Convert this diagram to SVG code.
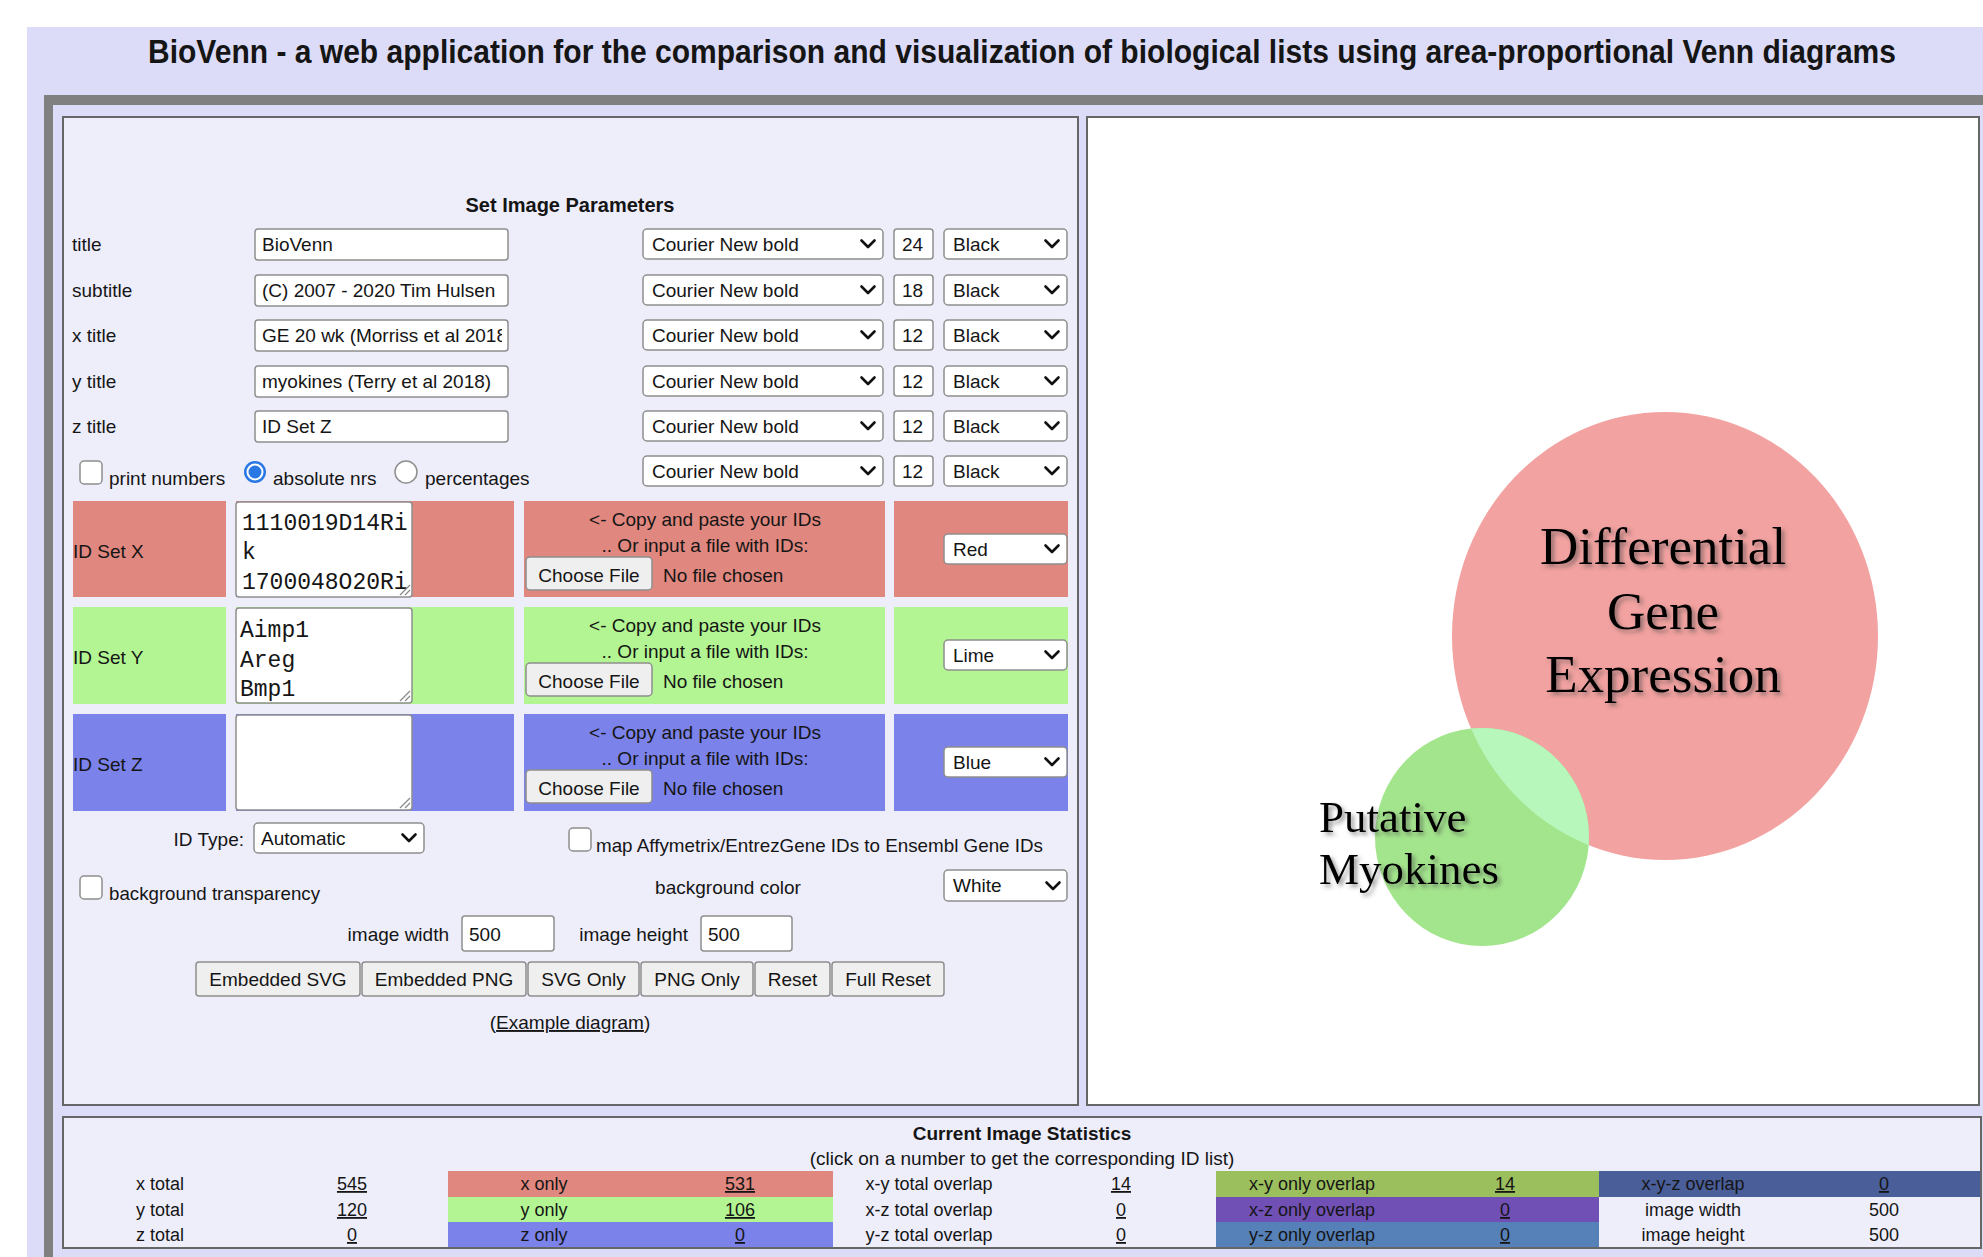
<svg xmlns="http://www.w3.org/2000/svg" width="1983" height="1257" viewBox="0 0 1983 1257">
<defs>
<style>
text{font-family:"Liberation Sans",Arial,sans-serif;fill:#151515}
.t{font-size:19px}
.b{font-weight:bold}
.c{text-anchor:middle}
.e{text-anchor:end}
.m{font-family:"Liberation Mono","Courier New",monospace;font-size:23px}
.box{fill:#fff;stroke:#8e8e8e;stroke-width:1.5}
.btn{fill:#efefef;stroke:#8e8e8e;stroke-width:1.5}
.panel{fill:#eeeefb;stroke:#666;stroke-width:2}
.s{font-size:18px;text-anchor:middle}
.u{text-decoration:underline}
.rx{fill:#e0877f}.gy{fill:#b3f593}.bz{fill:#7b82ea}
.venn{font-family:"Liberation Serif","Times New Roman",serif;fill:#000}
.grip{stroke:#8a8a8a;stroke-width:1.3}
</style>
<path id="chev" d="M-6.5,-3.5 L0,3 L6.5,-3.5" fill="none" stroke="#111" stroke-width="2.6" stroke-linecap="round" stroke-linejoin="round"/>
<clipPath id="clipX"><rect x="237" y="503" width="172" height="93"/></clipPath>
<clipPath id="clipXt"><rect x="256" y="321" width="246" height="29"/></clipPath>
<clipPath id="gc"><ellipse cx="1482" cy="837" rx="107" ry="109"/></clipPath>
<filter id="sh" x="-10%" y="-30%" width="120%" height="160%">
<feDropShadow dx="3" dy="3" stdDeviation="2" flood-color="#444" flood-opacity="0.55"/>
</filter>
</defs>

<rect x="0" y="0" width="1983" height="1257" fill="#fff"/>
<rect x="27" y="27" width="1956" height="1230" fill="#dcdcf8"/>
<text id="page-title" x="1022" y="63" class="b c" font-size="30" textLength="1748" lengthAdjust="spacingAndGlyphs" transform="translate(0,63) scale(1,1.12) translate(0,-63)">BioVenn - a web application for the comparison and visualization of biological lists using area-proportional Venn diagrams</text>

<g id="frame">
<rect x="44" y="95" width="1939" height="10" fill="#808080"/>
<rect x="44" y="95" width="9" height="1162" fill="#808080"/>
</g>

<g id="left-panel">
<rect class="panel" x="63" y="117" width="1015" height="988"/>
<text x="570" y="212" class="b c" font-size="20">Set Image Parameters</text>

<g id="row-title">
<text x="72" y="251" class="t">title</text>
<rect class="box" x="255" y="229" width="253" height="31" rx="3"/>
<text x="262" y="251" class="t">BioVenn</text>
<rect class="box" x="643" y="229" width="240" height="30" rx="4"/>
<text x="652" y="251" class="t">Courier New bold</text><use href="#chev" x="868" y="244"/>
<rect class="box" x="894" y="229" width="39" height="30" rx="3"/>
<text x="902" y="251" class="t">24</text>
<rect class="box" x="944" y="229" width="123" height="30" rx="4"/>
<text x="953" y="251" class="t">Black</text><use href="#chev" x="1052" y="244"/>
</g>
<g id="row-subtitle">
<text x="72" y="297" class="t">subtitle</text>
<rect class="box" x="255" y="275" width="253" height="31" rx="3"/>
<text x="262" y="297" class="t">(C) 2007 - 2020 Tim Hulsen</text>
<rect class="box" x="643" y="275" width="240" height="30" rx="4"/>
<text x="652" y="297" class="t">Courier New bold</text><use href="#chev" x="868" y="290"/>
<rect class="box" x="894" y="275" width="39" height="30" rx="3"/>
<text x="902" y="297" class="t">18</text>
<rect class="box" x="944" y="275" width="123" height="30" rx="4"/>
<text x="953" y="297" class="t">Black</text><use href="#chev" x="1052" y="290"/>
</g>
<g id="row-xtitle">
<text x="72" y="342" class="t">x title</text>
<rect class="box" x="255" y="320" width="253" height="31" rx="3" stroke="#555"/>
<text x="262" y="342" class="t" clip-path="url(#clipXt)">GE 20 wk (Morriss et al 2018</text>
<rect class="box" x="643" y="320" width="240" height="30" rx="4"/>
<text x="652" y="342" class="t">Courier New bold</text><use href="#chev" x="868" y="335"/>
<rect class="box" x="894" y="320" width="39" height="30" rx="3"/>
<text x="902" y="342" class="t">12</text>
<rect class="box" x="944" y="320" width="123" height="30" rx="4"/>
<text x="953" y="342" class="t">Black</text><use href="#chev" x="1052" y="335"/>
</g>
<g id="row-ytitle">
<text x="72" y="388" class="t">y title</text>
<rect class="box" x="255" y="366" width="253" height="31" rx="3"/>
<text x="262" y="388" class="t">myokines (Terry et al 2018)</text>
<rect class="box" x="643" y="366" width="240" height="30" rx="4"/>
<text x="652" y="388" class="t">Courier New bold</text><use href="#chev" x="868" y="381"/>
<rect class="box" x="894" y="366" width="39" height="30" rx="3"/>
<text x="902" y="388" class="t">12</text>
<rect class="box" x="944" y="366" width="123" height="30" rx="4"/>
<text x="953" y="388" class="t">Black</text><use href="#chev" x="1052" y="381"/>
</g>
<g id="row-ztitle">
<text x="72" y="433" class="t">z title</text>
<rect class="box" x="255" y="411" width="253" height="31" rx="3"/>
<text x="262" y="433" class="t">ID Set Z</text>
<rect class="box" x="643" y="411" width="240" height="30" rx="4"/>
<text x="652" y="433" class="t">Courier New bold</text><use href="#chev" x="868" y="426"/>
<rect class="box" x="894" y="411" width="39" height="30" rx="3"/>
<text x="902" y="433" class="t">12</text>
<rect class="box" x="944" y="411" width="123" height="30" rx="4"/>
<text x="953" y="433" class="t">Black</text><use href="#chev" x="1052" y="426"/>
</g>
<g id="row-numbers">
<rect class="box" x="80" y="461" width="22" height="23" rx="4"/>
<text x="109" y="485" class="t">print numbers</text>
<circle cx="255" cy="472" r="11" fill="#2a78e4"/>
<circle cx="255" cy="472" r="8.5" fill="#fff"/>
<circle cx="255" cy="472" r="6.5" fill="#2a78e4"/>
<text x="273" y="485" class="t">absolute nrs</text>
<circle cx="406" cy="472" r="11" fill="#fff" stroke="#8e8e8e" stroke-width="1.5"/>
<text x="425" y="485" class="t">percentages</text>
<rect class="box" x="643" y="456" width="240" height="30" rx="4"/>
<text x="652" y="478" class="t">Courier New bold</text><use href="#chev" x="868" y="471"/>
<rect class="box" x="894" y="456" width="39" height="30" rx="3"/>
<text x="902" y="478" class="t">12</text>
<rect class="box" x="944" y="456" width="123" height="30" rx="4"/>
<text x="953" y="478" class="t">Black</text><use href="#chev" x="1052" y="471"/>
</g>

<g id="set-x">
<rect class="rx" x="73" y="501" width="153" height="96"/>
<rect class="rx" x="236" y="501" width="278" height="96"/>
<rect class="rx" x="524" y="501" width="361" height="96"/>
<rect class="rx" x="894" y="501" width="174" height="96"/>
<text x="73" y="558" class="t">ID Set X</text>
<rect class="box" x="236" y="502" width="176" height="95" rx="3" stroke="#777"/>
<g clip-path="url(#clipX)">
<text x="242" y="530" class="m">1110019D14Ri</text>
<text x="242" y="559" class="m">k</text>
<text x="242" y="589" class="m">1700048O20Ri</text>
</g>
<line class="grip" x1="400" y1="595" x2="410" y2="585"/><line class="grip" x1="405" y1="595" x2="410" y2="590"/>
<text x="705" y="526" class="t c">&lt;- Copy and paste your IDs</text>
<text x="705" y="552" class="t c">.. Or input a file with IDs:</text>
<rect class="btn" x="526" y="557" width="126" height="33" rx="4"/>
<text x="589" y="582" class="t c">Choose File</text>
<text x="663" y="582" class="t">No file chosen</text>
<rect class="box" x="944" y="534" width="123" height="30" rx="4"/>
<text x="953" y="556" class="t">Red</text><use href="#chev" x="1052" y="549"/>
</g>

<g id="set-y">
<rect class="gy" x="73" y="607" width="153" height="97"/>
<rect class="gy" x="236" y="607" width="278" height="97"/>
<rect class="gy" x="524" y="607" width="361" height="97"/>
<rect class="gy" x="894" y="607" width="174" height="97"/>
<text x="73" y="664" class="t">ID Set Y</text>
<rect class="box" x="236" y="608" width="176" height="95" rx="3" stroke="#777"/>
<text x="240" y="637" class="m">Aimp1</text>
<text x="240" y="667" class="m">Areg</text>
<text x="240" y="696" class="m">Bmp1</text>
<line class="grip" x1="400" y1="701" x2="410" y2="691"/><line class="grip" x1="405" y1="701" x2="410" y2="696"/>
<text x="705" y="632" class="t c">&lt;- Copy and paste your IDs</text>
<text x="705" y="658" class="t c">.. Or input a file with IDs:</text>
<rect class="btn" x="526" y="663" width="126" height="33" rx="4"/>
<text x="589" y="688" class="t c">Choose File</text>
<text x="663" y="688" class="t">No file chosen</text>
<rect class="box" x="944" y="640" width="123" height="30" rx="4"/>
<text x="953" y="662" class="t">Lime</text><use href="#chev" x="1052" y="655"/>
</g>

<g id="set-z">
<rect class="bz" x="73" y="714" width="153" height="97"/>
<rect class="bz" x="236" y="714" width="278" height="97"/>
<rect class="bz" x="524" y="714" width="361" height="97"/>
<rect class="bz" x="894" y="714" width="174" height="97"/>
<text x="73" y="771" class="t">ID Set Z</text>
<rect class="box" x="236" y="715" width="176" height="95" rx="3" stroke="#777"/>
<line class="grip" x1="400" y1="808" x2="410" y2="798"/><line class="grip" x1="405" y1="808" x2="410" y2="803"/>
<text x="705" y="739" class="t c">&lt;- Copy and paste your IDs</text>
<text x="705" y="765" class="t c">.. Or input a file with IDs:</text>
<rect class="btn" x="526" y="770" width="126" height="33" rx="4"/>
<text x="589" y="795" class="t c">Choose File</text>
<text x="663" y="795" class="t">No file chosen</text>
<rect class="box" x="944" y="747" width="123" height="30" rx="4"/>
<text x="953" y="769" class="t">Blue</text><use href="#chev" x="1052" y="762"/>
</g>

<g id="options">
<text x="244" y="846" class="t e">ID Type:</text>
<rect class="box" x="254" y="823" width="170" height="30" rx="4"/>
<text x="261" y="845" class="t">Automatic</text><use href="#chev" x="409" y="838"/>
<rect class="box" x="569" y="828" width="22" height="23" rx="4"/>
<text x="596" y="852" class="t" textLength="447" lengthAdjust="spacingAndGlyphs">map Affymetrix/EntrezGene IDs to Ensembl Gene IDs</text>
<rect class="box" x="80" y="876" width="22" height="23" rx="4"/>
<text x="109" y="900" class="t" textLength="211" lengthAdjust="spacingAndGlyphs">background transparency</text>
<text x="728" y="894" class="t c">background color</text>
<rect class="box" x="944" y="870" width="123" height="31" rx="4"/>
<text x="953" y="892" class="t">White</text><use href="#chev" x="1053" y="886"/>
<text x="449" y="941" class="t e">image width</text>
<rect class="box" x="462" y="916" width="92" height="35" rx="3"/>
<text x="469" y="941" class="t">500</text>
<text x="688" y="941" class="t e">image height</text>
<rect class="box" x="701" y="916" width="91" height="35" rx="3"/>
<text x="708" y="941" class="t">500</text>
</g>

<g id="buttons">
<rect class="btn" x="196" y="962" width="164" height="34" rx="3"/>
<text x="278" y="986" class="t c">Embedded SVG</text>
<rect class="btn" x="362" y="962" width="164" height="34" rx="3"/>
<text x="444" y="986" class="t c">Embedded PNG</text>
<rect class="btn" x="528" y="962" width="111" height="34" rx="3"/>
<text x="583.5" y="986" class="t c">SVG Only</text>
<rect class="btn" x="641" y="962" width="112" height="34" rx="3"/>
<text x="697" y="986" class="t c">PNG Only</text>
<rect class="btn" x="755" y="962" width="75" height="34" rx="3"/>
<text x="792.5" y="986" class="t c">Reset</text>
<rect class="btn" x="832" y="962" width="112" height="34" rx="3"/>
<text x="888" y="986" class="t c">Full Reset</text>
<text x="570" y="1029" class="t c">(<tspan class="u">Example diagram</tspan>)</text>
</g>
</g>

<g id="venn-panel">
<rect x="1087" y="117" width="892" height="988" fill="#fff" stroke="#666" stroke-width="2"/>
<ellipse cx="1665" cy="636" rx="213" ry="224" fill="#f2a2a0"/>
<ellipse cx="1482" cy="837" rx="107" ry="109" fill="#a3e58c"/>
<ellipse cx="1665" cy="636" rx="213" ry="224" fill="#b7f7bb" clip-path="url(#gc)"/>
<g filter="url(#sh)">
<text x="1663" y="564" class="venn c" font-size="53">Differential</text>
<text x="1663" y="629" class="venn c" font-size="53">Gene</text>
<text x="1663" y="692" class="venn c" font-size="53">Expression</text>
<text x="1319" y="832" class="venn" font-size="45">Putative</text>
<text x="1319" y="884" class="venn" font-size="45">Myokines</text>
</g>
</g>

<g id="stats">
<rect class="panel" x="63" y="1117" width="1918" height="131"/>
<text x="1022" y="1140" class="b c" font-size="19">Current Image Statistics</text>
<text x="1022" y="1165" class="t c" font-size="18">(click on a number to get the corresponding ID list)</text>
<rect class="rx" x="448" y="1171" width="385" height="26"/>
<rect class="gy" x="448" y="1197" width="385" height="25"/>
<rect class="bz" x="448" y="1222" width="385" height="25"/>
<rect x="1216" y="1171" width="383" height="26" fill="#9cbf5e"/>
<rect x="1216" y="1197" width="383" height="25" fill="#7150b6"/>
<rect x="1216" y="1222" width="383" height="25" fill="#5580b8"/>
<rect x="1599" y="1171" width="381" height="26" fill="#4a5e9a"/>
<text x="160" y="1190" class="s">x total</text>
<text x="160" y="1216" class="s">y total</text>
<text x="160" y="1241" class="s">z total</text>
<text x="352" y="1190" class="s u">545</text>
<text x="352" y="1216" class="s u">120</text>
<text x="352" y="1241" class="s u">0</text>
<text x="544" y="1190" class="s">x only</text>
<text x="544" y="1216" class="s">y only</text>
<text x="544" y="1241" class="s">z only</text>
<text x="740" y="1190" class="s u">531</text>
<text x="740" y="1216" class="s u">106</text>
<text x="740" y="1241" class="s u">0</text>
<text x="929" y="1190" class="s">x-y total overlap</text>
<text x="929" y="1216" class="s">x-z total overlap</text>
<text x="929" y="1241" class="s">y-z total overlap</text>
<text x="1121" y="1190" class="s u">14</text>
<text x="1121" y="1216" class="s u">0</text>
<text x="1121" y="1241" class="s u">0</text>
<text x="1312" y="1190" class="s">x-y only overlap</text>
<text x="1312" y="1216" class="s">x-z only overlap</text>
<text x="1312" y="1241" class="s">y-z only overlap</text>
<text x="1505" y="1190" class="s u">14</text>
<text x="1505" y="1216" class="s u">0</text>
<text x="1505" y="1241" class="s u">0</text>
<text x="1693" y="1190" class="s">x-y-z overlap</text>
<text x="1693" y="1216" class="s">image width</text>
<text x="1693" y="1241" class="s">image height</text>
<text x="1884" y="1190" class="s u">0</text>
<text x="1884" y="1216" class="s">500</text>
<text x="1884" y="1241" class="s">500</text>
</g>
</svg>
